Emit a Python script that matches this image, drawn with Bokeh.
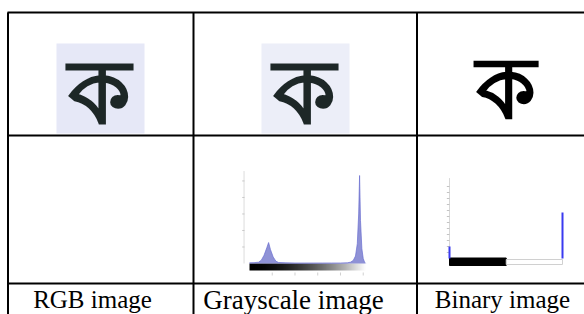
from bokeh.plotting import figure
from bokeh.models import Range1d, LinearColorMapper
from bokeh.palettes import Greys256
from bokeh.core.properties import value
from bokeh.embed import file_html
from bokeh.resources import INLINE
import numpy as np

# ---------------- data ----------------
column_labels = ["RGB image", "Grayscale image", "Binary image"]
character = "ক"

# grayscale histogram (intensity level -> pixel count)
gray_level = [0, 10, 20, 26, 32, 38, 42, 46, 52, 58, 64, 80, 100, 120, 140,
              160, 180, 200, 215, 222, 228, 233, 237, 240, 242, 244, 247, 250, 253, 255]
gray_count = [4, 5, 8, 20, 50, 95, 127, 85, 40, 14, 6, 4, 3, 3, 3,
              3, 3, 3, 4, 8, 18, 45, 120, 300, 533, 260, 90, 30, 8, 2]
gray_yticks = [100, 200, 300, 400, 500]
gray_xticks = [50, 100, 150, 200, 250]

# binary histogram
bin_level = [0, 255]
bin_count = [1000, 3830]
bin_yticks = [500, 1000, 1500, 2000, 2500, 3000, 3500, 4000, 4500, 5000, 5500, 6000]
bin_threshold = 128

# ---------------- figure (page pixel coordinates) ----------------
W, H = 584, 314
p = figure(width=W, height=H, x_range=Range1d(0, W), y_range=Range1d(H, 0),
           output_backend="svg", toolbar_location=None, min_border=0)
p.axis.visible = False
p.grid.visible = False
p.outline_line_color = None
p.background_fill_color = "white"
p.border_fill_color = "white"


def span(p0, p1, v0, v1, f0, f1):
    k = (v1 - v0) / (p1 - p0)
    return Range1d(v0 + (f0 - p0) * k, v0 + (f1 - p0) * k)


# grayscale histogram box: levels 0..255 -> px 249..365, counts 0..533 -> px 263..175
p.extra_x_ranges["gx"] = span(249, 365, 0, 255, 0, W)
p.extra_y_ranges["gy"] = span(263, 175, 0, 533, H, 0)
# binary histogram box: levels 0..255 -> px 449..562, counts 0..1000 -> px 258..246
p.extra_x_ranges["bx"] = span(449, 562, 0, 255, 0, W)
p.extra_y_ranges["by"] = span(258, 246, 0, 1000, H, 0)

# ---- character images ----
p.quad(left=[56, 261], right=[144, 349], top=[43, 43], bottom=[133, 133],
       fill_color=["#e6e8f7", "#eceef8"], line_color=None)
p.text(x=[99, 304], y=[87, 87], text=[character] * 2,
       text_color="#1d2727", text_align="center", text_font_style="bold",
       text_baseline="middle", text_font_size="90px", text_font=value("Noto Sans"))
p.text(x=[505], y=[84], text=[character],
       text_color="black", text_align="center", text_font_style="bold",
       text_baseline="middle", text_font_size="86px", text_font=value("Noto Sans"))

# ---- grayscale histogram ----
grad = np.arange(256).reshape(1, 256)
dark_greys = [Greys256[int(255 * (i / 255) ** 1.8)] for i in range(256)]
p.image(image=[grad], x=0, y=263, dw=255, dh=7, x_range_name="gx",
        color_mapper=LinearColorMapper(palette=dark_greys, low=0, high=255))
p.segment(x0=[-12], x1=[-12], y0=[0], y1=[560], x_range_name="gx", y_range_name="gy",
          line_color="#dcdcdc", line_width=1)
p.segment(x0=[-16] * len(gray_yticks), x1=[-11] * len(gray_yticks), y0=gray_yticks, y1=gray_yticks,
          x_range_name="gx", y_range_name="gy", line_color="#c8c8c8", line_width=1)
p.segment(x0=gray_xticks, x1=gray_xticks, y0=[272] * 5, y1=[275] * 5, x_range_name="gx",
          line_color="#d0d0d0", line_width=1)
p.varea(x=gray_level, y1=[0] * len(gray_level), y2=gray_count, x_range_name="gx",
        y_range_name="gy", fill_color="#6064c4", fill_alpha=0.7)
p.line(x=gray_level, y=gray_count, x_range_name="gx", y_range_name="gy",
       line_color="#6a6ed0", line_width=1, line_alpha=0.7)

# ---- binary histogram ----
p.segment(x0=[0], x1=[0], y0=[0], y1=[6700], x_range_name="bx", y_range_name="by",
          line_color="#d8d8d8", line_width=1)
p.segment(x0=[-6] * len(bin_yticks), x1=[0] * len(bin_yticks), y0=bin_yticks, y1=bin_yticks,
          x_range_name="bx", y_range_name="by", line_color="#c4c4c4", line_width=1)
p.quad(left=[0, bin_threshold], right=[bin_threshold, 255], top=[257.5, 259],
       bottom=[265, 264], x_range_name="bx",
       fill_color=["black", "white"], line_color=["black", "#d0d0d0"], line_width=1)
p.segment(x0=bin_level, x1=bin_level, y0=[0, 0], y1=bin_count, x_range_name="bx",
          y_range_name="by", line_color="#3a3af0", line_width=2)

# ---- table grid ----
p.segment(x0=[7, 7, 7], x1=[584, 584, 584], y0=[12, 135, 283], y1=[12, 135, 283],
          line_color="black", line_width=2)
p.segment(x0=[7.5, 193, 416.5], x1=[7.5, 193, 416.5], y0=[12, 12, 12], y1=[314, 314, 314],
          line_color="black", line_width=2)

# ---- labels ----
p.text(x=[92, 293, 502], y=[299, 299, 299], text=column_labels, text_align="center",
       text_baseline="middle", text_font_size=["25px", "27px", "25px"], text_color="black",
       text_font=value("Liberation Serif"))

open("out.html", "w").write(file_html(p, INLINE))
